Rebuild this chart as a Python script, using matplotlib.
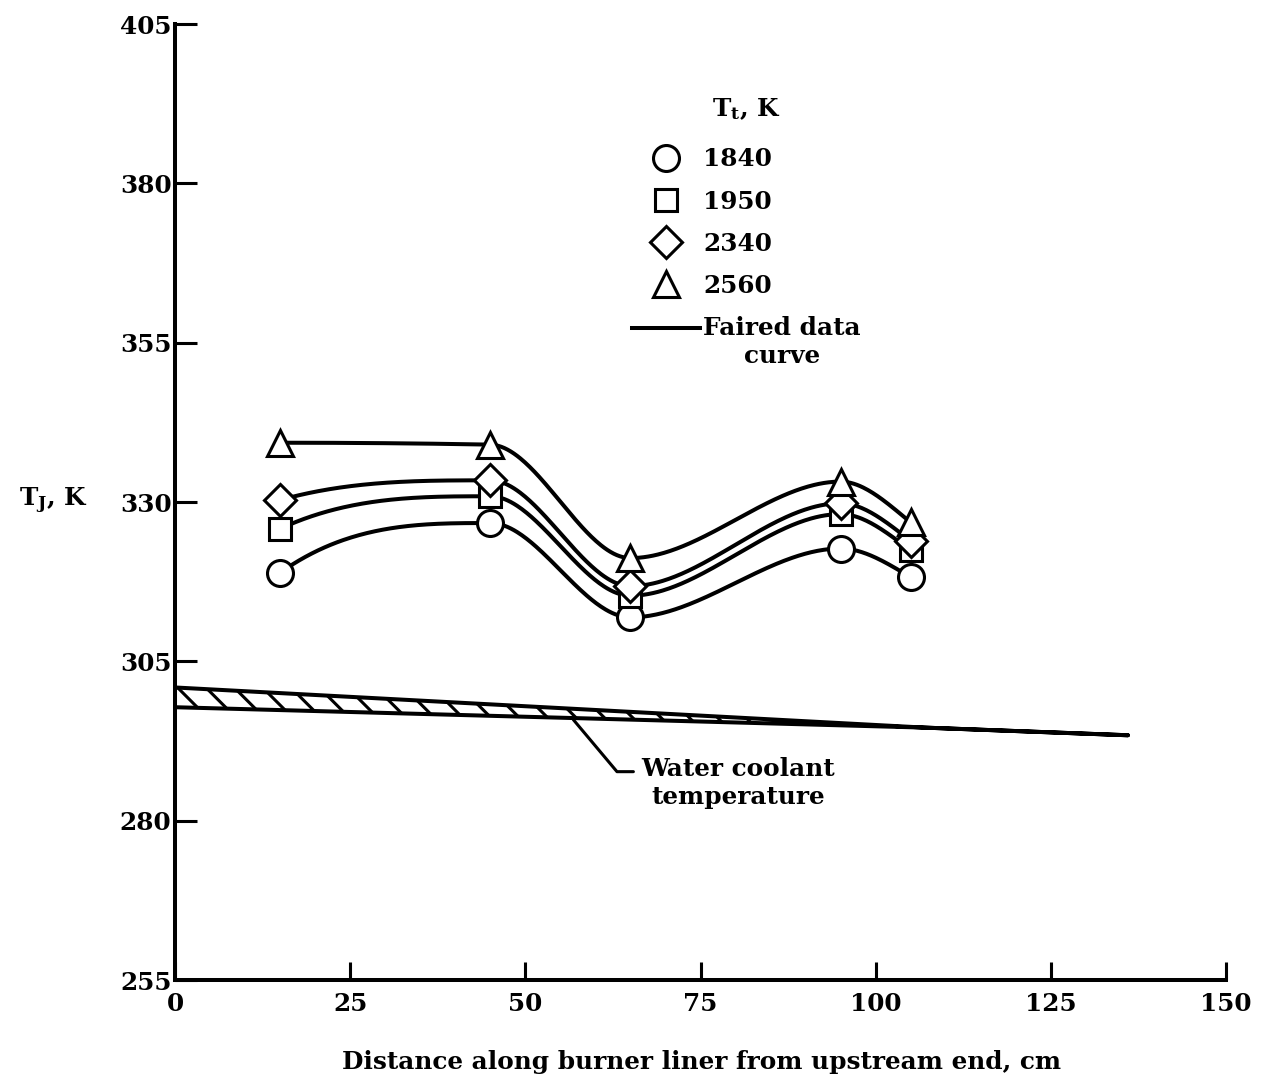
import numpy as np
import matplotlib
matplotlib.use("Agg")
import matplotlib.pyplot as plt
from matplotlib.lines import Line2D
from matplotlib.legend_handler import HandlerLine2D

# ---------------- data ----------------
distance_cm = [15, 45, 65, 95, 105]
tj_1840 = [318.9, 326.7, 311.9, 322.7, 318.2]
tj_1950 = [325.8, 330.9, 315.3, 328.1, 322.4]
tj_2340 = [330.3, 333.4, 316.8, 329.8, 323.9]
tj_2560 = [339.3, 339.0, 321.2, 333.2, 326.8]
series_labels = ["1840", "1950", "2340", "2560"]

coolant_x = [0, 107, 136]
coolant_hi = [300.9, 294.6, 293.4]
coolant_lo = [297.8, 294.6, 293.4]

x_ticks = [0, 25, 50, 75, 100, 125, 150]
y_ticks = [255, 280, 305, 330, 355, 380, 405]


def pchip(x, y, xn):
    """Shape-preserving cubic (faired curve) through the data points."""
    x = np.asarray(x, float)
    y = np.asarray(y, float)
    h = np.diff(x)
    d = np.diff(y) / h
    n = len(x)
    m = np.zeros(n)
    for k in range(1, n - 1):
        if d[k - 1] * d[k] > 0:
            w1 = 2 * h[k] + h[k - 1]
            w2 = h[k] + 2 * h[k - 1]
            m[k] = (w1 + w2) / (w1 / d[k - 1] + w2 / d[k])

    def end(h0, h1, d0, d1):
        mm = ((2 * h0 + h1) * d0 - h0 * d1) / (h0 + h1)
        if np.sign(mm) != np.sign(d0):
            mm = 0.0
        elif np.sign(d0) != np.sign(d1) and abs(mm) > abs(3 * d0):
            mm = 3 * d0
        return mm

    m[0] = end(h[0], h[1], d[0], d[1])
    m[-1] = end(h[-1], h[-2], d[-1], d[-2])
    xn = np.asarray(xn, float)
    idx = np.clip(np.searchsorted(x, xn) - 1, 0, n - 2)
    t = (xn - x[idx]) / h[idx]
    h00 = 2 * t**3 - 3 * t**2 + 1
    h10 = t**3 - 2 * t**2 + t
    h01 = -2 * t**3 + 3 * t**2
    h11 = t**3 - t**2
    return (h00 * y[idx] + h10 * h[idx] * m[idx]
            + h01 * y[idx + 1] + h11 * h[idx] * m[idx + 1])


class UpperLineHandler(HandlerLine2D):
    """Legend line drawn at the level of the first text line."""
    def __init__(self, offset, **kw):
        super().__init__(**kw)
        self.offset = offset

    def create_artists(self, legend, orig_handle, xdescent, ydescent,
                       width, height, fontsize, trans):
        arts = super().create_artists(legend, orig_handle, xdescent, ydescent,
                                      width, height, fontsize, trans)
        for a in arts:
            a.set_ydata(np.asarray(a.get_ydata(), float) + self.offset)
        return arts


# ---------------- style ----------------
plt.rcParams["font.family"] = ["DejaVu Serif"]
plt.rcParams["font.weight"] = "bold"
plt.rcParams["mathtext.fontset"] = "dejavuserif"
plt.rcParams["hatch.linewidth"] = 1.3

DPI = 170
W, H = 1262, 1081
fig = plt.figure(figsize=(W / DPI, H / DPI), dpi=DPI)
ax = fig.add_axes([175 / W, 1 - 980 / H, (1226 - 175) / W, (980 - 24) / H])
ax.set_xlim(0, 150)
ax.set_ylim(255, 405)

# water coolant band
ax.fill_between(coolant_x, coolant_lo, coolant_hi, facecolor="white",
                edgecolor="black", hatch="\\\\", linewidth=1.7, zorder=2)

# series
xs = np.linspace(distance_cm[0], distance_cm[-1], 400)
series = [tj_1840, tj_1950, tj_2340, tj_2560]
markers = ["o", "s", "D", "^"]
msizes = [11.0, 9.3, 9.6, 10.6]
handles = []
for vals, mk, ms, lab in zip(series, markers, msizes, series_labels):
    ax.plot(xs, pchip(distance_cm, vals, xs), color="black", lw=1.7, zorder=3)
    ax.plot(distance_cm, vals, ls="none", marker=mk, ms=ms, mfc="white",
            mec="black", mew=1.3, zorder=4)
    handles.append(Line2D([], [], ls="none", marker=mk, ms=ms, mfc="white",
                          mec="black", mew=1.3, label=lab))
faired = Line2D([], [], color="black", lw=1.7, label="Faired data\ncurve")
handles.append(faired)

leg = ax.legend(handles=handles, loc="upper left", bbox_to_anchor=(0.4348, 0.924),
                frameon=False, borderpad=0, borderaxespad=0,
                prop=dict(size=10.5, weight="bold"),
                title=r"T$_{\mathregular{t}}$, K",
                title_fontproperties=dict(size=10.5, weight="bold"),
                handlelength=2.75, handletextpad=0.12, labelspacing=0.73,
                handler_map={faired: UpperLineHandler(offset=6.0)})
leg.get_texts()[-1].set_multialignment("center")
# extra gap between the legend title and the first entry
leg._legend_box.sep = 10.6

# annotation for coolant
ax.annotate("Water coolant\ntemperature", xy=(56.85, 295.85), xytext=(66.6, 285.9),
            ha="left", va="center", multialignment="center", fontsize=10.5,
            fontweight="bold",
            arrowprops=dict(arrowstyle="-", color="black", lw=1.3,
                            connectionstyle="angle,angleA=0,angleB=-50,rad=0",
                            relpos=(0, 0.72), shrinkA=1.5, shrinkB=0))

# axes styling
for s in ["top", "right"]:
    ax.spines[s].set_visible(False)
for s in ["left", "bottom"]:
    ax.spines[s].set_linewidth(1.7)
ax.set_xticks(x_ticks)
ax.set_yticks(y_ticks)
ax.tick_params(axis="y", direction="in", length=9.3, width=1.3, pad=1.5,
               labelsize=10.5)
ax.tick_params(axis="x", direction="in", length=7.6, width=1.3, pad=5,
               labelsize=10.5)

ax.set_ylabel(r"T$_{\mathregular{J}}$, K", rotation=0, fontsize=10.5,
              fontweight="bold", ha="center", va="baseline")
ax.yaxis.set_label_coords(-0.116, 0.496)
ax.set_xlabel("Distance along burner liner from upstream end, cm", fontsize=10.5,
              fontweight="bold", va="center")
ax.xaxis.set_label_coords(0.5014, -0.0858)

fig.savefig("out.png", dpi=DPI)
